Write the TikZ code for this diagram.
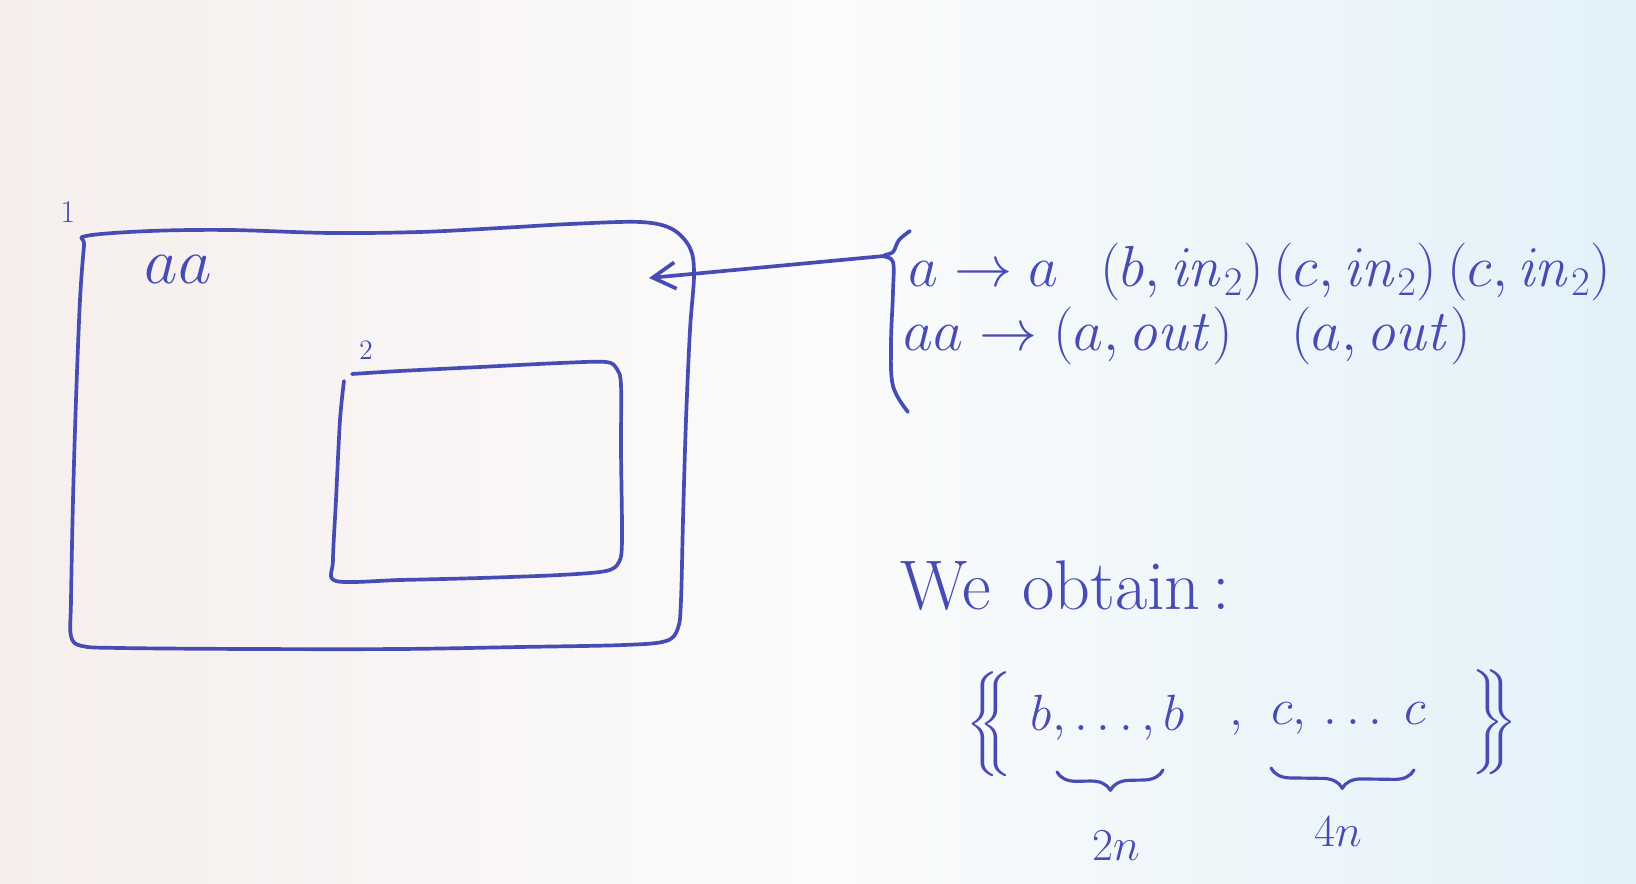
\documentclass[tikz,border=0pt]{standalone}
\usepackage{fix-cm}
\usepackage{exscale}
\usetikzlibrary{arrows.meta,decorations.pathreplacing}
\definecolor{ink}{RGB}{70,76,180}
\definecolor{paperL}{RGB}{245,238,236}
\definecolor{paperM}{RGB}{251,251,251}
\definecolor{paperR}{RGB}{226,241,249}
\begin{document}
\begin{tikzpicture}[x=0.02cm,y=-0.02cm,
  pen/.style={draw=ink,line width=2.1pt,line cap=round,line join=round},
  hand/.style={text=ink,inner sep=0pt,font=\fontsize{33}{40}\selectfont},
  small/.style={text=ink,inner sep=0pt,font=\fontsize{26}{30}\selectfont},
  tag/.style={text=ink,inner sep=0pt,font=\fontsize{18}{20}\selectfont},
  underbr/.style={pen,line width=1.8pt,decorate,decoration={brace,mirror,amplitude=11pt}}]

% paper
\shade[left color=paperL,right color=paperR,middle color=paperM] (0,0) rectangle (1636,884);
\useasboundingbox (0,0) rectangle (1636,884);

% membrane 1 (skin)
\draw[pen] plot[smooth cycle,tension=0.55] coordinates {
  (86,236) (150,231) (230,230) (330,233) (420,232) (500,228) (570,224) (640,222)
  (672,229) (690,248) (694,275) (690,330) (686,420) (683,520) (681,600) (678,628)
  (666,641) (624,645) (520,647) (400,649) (250,649) (120,648) (82,646) (71,636)
  (71,600) (73,500) (76,400) (80,300) (84,246)};
\node[tag] (lab1) at (68,212) {$1$};
\node[hand,anchor=base,font=\fontsize{37}{40}\selectfont] (aa) at (178,284) {$aa$};

% membrane 2
\draw[pen] plot[smooth,tension=0.5] coordinates {
  (344,381) (340,420) (336,500) (333,560) (336,581) (400,580) (480,578) (560,575)
  (606,571) (619,562) (622,540) (621,450) (621,385) (617,369) (606,362) (560,363)
  (480,367) (400,371) (352,374)};
\node[tag,font=\fontsize{16}{18}\selectfont] (lab2) at (366,350) {$2$};

% rules of membrane 1
\coordinate (cusp) at (884,256);
\coordinate (target) at (649,278);
\draw[pen] plot[smooth,tension=0.6] coordinates {
  (910,231) (899,240) (893,252) (884,256) (893,262) (893,292) (891,344) (893,386) (908,412)};
\draw[pen,-{Straight Barb[length=13pt,width=15pt]}] (cusp) -- (target);
\node[hand,anchor=base west] (r1) at (908,287)
  {$a \to a\;\;\,(b,\mathit{in}_2)\,(c,\mathit{in}_2)\,(c,\mathit{in}_2)$};
\node[hand,anchor=base west] (r2) at (903,351)
  {$aa \to (a,\mathit{out})\quad(a,\mathit{out})$};

% result
\node[hand,anchor=base west,font=\fontsize{40}{44}\selectfont] (obt) at (900,610)
  {We\hspace{0.45em}obtain\,:};
\node[hand,font=\fontsize{34}{40}\selectfont] (lbr) at (989,724) {$\Big\{\!\!\Big\{$};
\node[hand,font=\fontsize{29}{32}\selectfont] (bs) at (1108,718) {$b,\ldots,b$};
\node[hand,font=\fontsize{29}{32}\selectfont] (sep) at (1236,728) {$,$};
\node[hand,font=\fontsize{29}{32}\selectfont] (cs) at (1349,718) {$c,\,\ldots\;c$};
\node[hand,font=\fontsize{34}{40}\selectfont] (rbr) at (1494,722) {$\Big\}\!\!\Big\}$};

\coordinate (b1) at (1057,772);
\coordinate (b2) at (1163,770);
\coordinate (c1) at (1271,768);
\coordinate (c2) at (1414,770);
\draw[underbr] (b1) -- (b2);
\draw[underbr] (c1) -- (c2);
\node[small] (n2) at (1116,846) {$2n$};
\node[small] (n4) at (1338,832) {$4n$};
\end{tikzpicture}
\end{document}
